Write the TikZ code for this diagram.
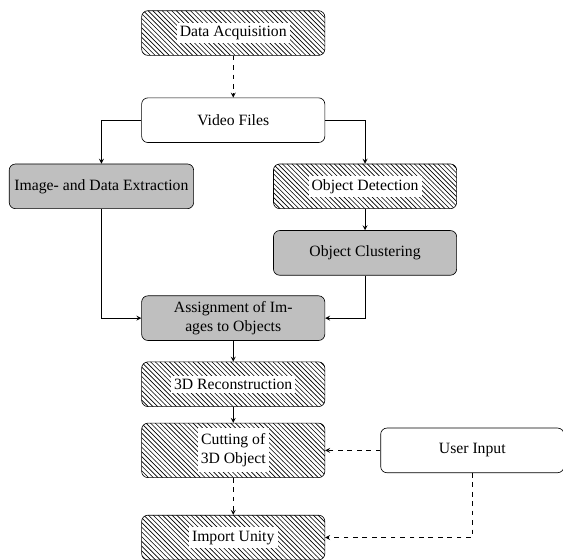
\documentclass[tikz,border=0pt]{standalone}
\usepackage{fontspec}
\setmainfont{Liberation Serif}
\usetikzlibrary{patterns}

\newcommand{\whitebg}[1]{{\setlength{\fboxsep}{2pt}\colorbox{white}{#1}}}

\tikzset{
  box/.style={draw, rounded corners, align=center, minimum width=4.1cm, minimum height=1cm, font=\normalsize},
  hatchbox/.style={box, pattern=north west lines},
  graybox/.style={box, fill=gray!50},
  flow/.style={-stealth},
  dashflow/.style={-stealth, dashed}
}

\begin{document}
\begin{tikzpicture}[node distance=1.48cm]

\useasboundingbox (0,0) rectangle (12.6,-12.53);

\node[hatchbox] (acq) at (5.22,-0.74) {\whitebg{Data Acquisition}};
\node[box, below of=acq, node distance=1.95cm] (video) {Video Files};
\node[graybox, below of=video, xshift=-2.95cm] (extract) {Image- and Data Extraction};
\node[hatchbox, below of=video, xshift=2.95cm] (detect) {\whitebg{Object Detection}};
\node[graybox, below of=detect, node distance=1.49cm] (cluster) {Object Clustering};
\node[graybox, below of=extract, xshift=2.95cm, node distance=2.95cm] (assign) {Assignment of Im-\\ages to Objects};
\node[hatchbox, below of=assign] (recon) {\whitebg{3D Reconstruction}};
\node[hatchbox, below of=recon] (cut) {\whitebg{\begin{tabular}{@{}c@{}}Cutting of\\3D Object\end{tabular}}};
\node[hatchbox, below of=cut, node distance=1.95cm] (import) {\whitebg{Import Unity}};
\node[box, right of=cut, node distance=5.35cm] (user) {User Input};

\draw[dashflow] (acq) -- (video);
\draw[flow] (video.west) -| (extract.north);
\draw[flow] (video.east) -| (detect.north);
\draw[flow] (detect) -- (cluster);
\draw[flow] (extract.south) |- (assign.west);
\draw[flow] (cluster.south) |- (assign.east);
\foreach \s/\d in {assign/recon,recon/cut}
  \draw[flow] (\s) -- (\d);
\draw[dashflow] (cut) -- (import);
\draw[dashflow] (user) -- (cut);
\draw[dashflow] (user.south) |- (import.east);

\end{tikzpicture}
\end{document}
